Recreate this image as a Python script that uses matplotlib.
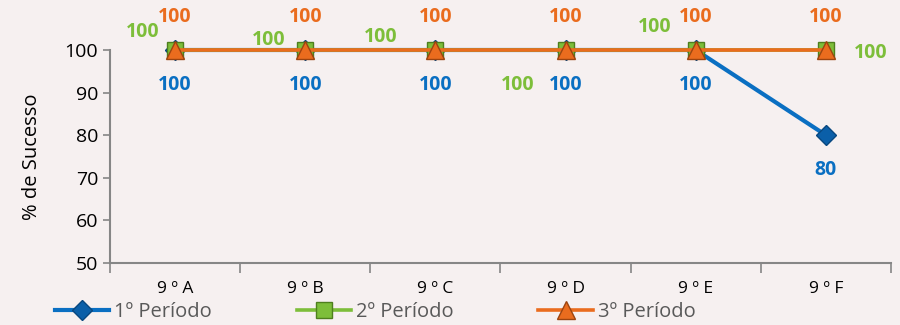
import matplotlib.pyplot as plt
import numpy as np

turmas = ['9ºA', '9ºB', '9ºC', '9ºD', '9ºE', '9ºF']
periodo1 = [100, 100, 100, 100, 100, 80]
periodo2 = [100, 100, 100, 100, 100, 100]
periodo3 = [100, 100, 100, 100, 100, 100]
series_names = ['1º Período', '2º Período', '3º Período']

bg = '#F6F0F0'
blue = '#0A6FC2'
green = '#7DBE3A'
orange = '#EA6C1E'

plt.rcParams['font.family'] = ['Open Sans', 'DejaVu Sans']

fig = plt.figure(figsize=(9, 3.25), dpi=100, facecolor=bg)
ax = fig.add_axes([110 / 900, 1 - 263 / 325, 781 / 900, 213 / 325])
ax.set_facecolor(bg)

x = np.arange(len(turmas))
ax.plot(x, periodo1, color=blue, lw=3, marker='D', ms=10, mfc='#0B5FA8',
        mec='#08477F', label=series_names[0], zorder=3, clip_on=False)
ax.plot(x, periodo2, color=green, lw=2.6, marker='s', ms=12, mfc=green,
        mec='#4E7F1E', label=series_names[1], zorder=4, clip_on=False)
ax.plot(x, periodo3, color=orange, lw=2.6, marker='^', ms=13, mfc=orange,
        mec='#9C4410', label=series_names[2], zorder=5, clip_on=False)

ax.set_xlim(-0.5, len(turmas) - 0.5)
ax.set_ylim(50, 100)
ax.set_yticks([50, 60, 70, 80, 90, 100])
ax.set_xticks(x)
ax.set_xticklabels([' '.join(t) for t in turmas], fontsize=12.5)
ax.set_xticks(np.arange(-0.5, len(turmas)), minor=True)
ax.tick_params(axis='x', which='major', length=0, pad=13)
ax.tick_params(axis='x', which='minor', length=7, width=1.2, color='#868686')
ax.tick_params(axis='y', length=5, width=1.2, color='#868686', labelsize=14)
ax.set_ylabel('% de Sucesso', fontsize=14.5, labelpad=16)

for s in ['top', 'right']:
    ax.spines[s].set_visible(False)
for s in ['left', 'bottom']:
    ax.spines[s].set_color('#868686')
    ax.spines[s].set_linewidth(1.5)

# data labels
green_off = [(-32, 18), (-37, 10), (-55, 13), (-48, -35), (-41, 23), (45, -3)]
for i in range(len(turmas)):
    ax.annotate(str(periodo1[i]), (x[i], periodo1[i]), xytext=(0, -35),
                textcoords='offset pixels', ha='center', va='center',
                color=blue, fontsize=14, fontweight='bold', annotation_clip=False)
    ax.annotate(str(periodo2[i]), (x[i], periodo2[i]), xytext=green_off[i],
                textcoords='offset pixels', ha='center', va='center',
                color=green, fontsize=14, fontweight='bold', annotation_clip=False)
    ax.annotate(str(periodo3[i]), (x[i], periodo3[i]), xytext=(0, 33),
                textcoords='offset pixels', ha='center', va='center',
                color=orange, fontsize=14, fontweight='bold', annotation_clip=False)

leg = fig.legend(loc='center left', bbox_to_anchor=(55 / 900, 13 / 325), ncol=3,
                 frameon=False, fontsize=14.5, handlelength=2.7, columnspacing=4.2,
                 handletextpad=0.25, borderaxespad=0, borderpad=0)
for t in leg.get_texts():
    t.set_color('#595959')

fig.savefig('out.png', dpi=100, facecolor=bg)
